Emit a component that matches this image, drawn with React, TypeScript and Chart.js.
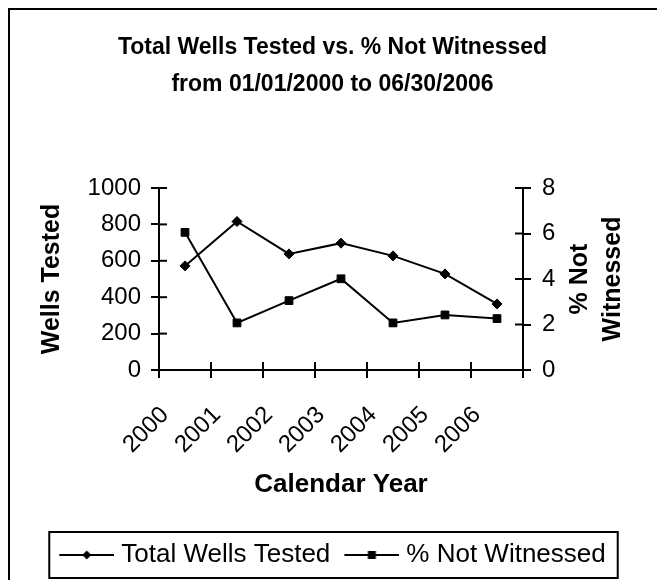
import React, { useEffect, useRef } from "react";
import { Chart, registerables } from "chart.js";

Chart.register(...registerables);

const categories = ["2000", "2001", "2002", "2003", "2004", "2005", "2006"];
const wellsTested = [572, 816, 638, 697, 627, 528, 363];
const pctNotWitnessed = [6.05, 2.07, 3.05, 4.01, 2.07, 2.42, 2.26];
const wellsTicks = [0, 200, 400, 600, 800, 1000];
const pctTicks = [0, 2, 4, 6, 8];
const seriesNames = ["Total Wells Tested", "% Not Witnessed"];
const titleLines = ["Total Wells Tested vs. % Not Witnessed", "from 01/01/2000 to 06/30/2006"];
const xTitle = "Calendar Year";
const yLeftTitle = "Wells Tested";
const yRightTitle = ["% Not", "Witnessed"];

const FAMILY = "'Liberation Sans', Arial, sans-serif";
const BLACK = "#000000";
const TICK_FONT = 24;
const AXIS_TITLE_FONT = 25;
const LEGEND_FONT = 26;

function legendSymbol(kind: "diamond" | "square"): HTMLCanvasElement {
  const c = document.createElement("canvas");
  c.width = 61;
  c.height = 14;
  const ctx = c.getContext("2d")!;
  ctx.strokeStyle = BLACK;
  ctx.fillStyle = BLACK;
  ctx.lineWidth = 2;
  ctx.beginPath();
  ctx.moveTo(6, 7);
  ctx.lineTo(61, 7);
  ctx.stroke();
  const cx = 6 + 55 / 2;
  if (kind === "diamond") {
    ctx.beginPath();
    ctx.moveTo(cx, 2.5);
    ctx.lineTo(cx + 4.5, 7);
    ctx.lineTo(cx, 11.5);
    ctx.lineTo(cx - 4.5, 7);
    ctx.closePath();
    ctx.fill();
  } else {
    ctx.fillRect(cx - 4, 3, 8, 8);
  }
  return c;
}

const framePlugin = {
  id: "frame",
  beforeDraw(chart: any) {
    const { ctx, width, height } = chart;
    ctx.save();
    ctx.fillStyle = "#ffffff";
    ctx.fillRect(0, 0, width, height);
    ctx.strokeStyle = BLACK;
    ctx.lineWidth = 2;
    ctx.beginPath();
    ctx.moveTo(1, height);
    ctx.lineTo(1, 1);
    ctx.lineTo(width, 1);
    ctx.stroke();
    ctx.restore();
  },
};

const innerTicksPlugin = {
  id: "innerTicks",
  afterDraw(chart: any) {
    const { ctx, chartArea, scales } = chart;
    ctx.save();
    ctx.strokeStyle = BLACK;
    ctx.lineWidth = 2;
    const seg = (x1: number, y1: number, x2: number, y2: number) => {
      ctx.beginPath();
      ctx.moveTo(x1, y1);
      ctx.lineTo(x2, y2);
      ctx.stroke();
    };
    scales.y.ticks.forEach((t: any) => {
      const p = scales.y.getPixelForValue(t.value);
      seg(chartArea.left, p, chartArea.left + 8, p);
    });
    scales.y1.ticks.forEach((t: any) => {
      const p = scales.y1.getPixelForValue(t.value);
      seg(chartArea.right - 8, p, chartArea.right, p);
    });
    for (let i = 0; i <= categories.length; i++) {
      const p = scales.x.getPixelForValue(i - 0.5);
      seg(p, chartArea.bottom, p, chartArea.bottom - 8);
    }
    // right axis title, reading bottom-to-top
    ctx.fillStyle = BLACK;
    ctx.font = `bold ${AXIS_TITLE_FONT}px ${FAMILY}`;
    ctx.textAlign = "center";
    ctx.textBaseline = "middle";
    const cy = (chartArea.top + chartArea.bottom) / 2;
    const firstX = scales.y1.right - 77;
    yRightTitle.forEach((line, i) => {
      ctx.save();
      ctx.translate(firstX + i * 33, cy);
      ctx.rotate(-Math.PI / 2);
      ctx.fillText(line, 0, 0);
      ctx.restore();
    });
    // legend border
    const lg = chart.legend;
    if (lg && lg.legendHitBoxes && lg.legendHitBoxes.length) {
      const hb = lg.legendHitBoxes;
      const left = hb[0].left - 10;
      const last = hb[hb.length - 1];
      const right = last.left + last.width + 12;
      const midY = hb[0].top + hb[0].height / 2;
      ctx.strokeRect(left, midY - 23, right - left, 46);
    }
    ctx.restore();
  },
};

export default function App() {
  const ref = useRef<HTMLCanvasElement | null>(null);

  useEffect(() => {
    if (!ref.current) return;
    const symbols = [legendSymbol("diamond"), legendSymbol("square")];
    const gridOpts = {
      drawOnChartArea: false,
      drawTicks: true,
      tickLength: 8,
      tickWidth: 2,
      tickColor: BLACK,
      lineWidth: 2,
      color: BLACK,
    };
    const chart = new Chart(ref.current, {
      type: "line",
      data: {
        labels: categories,
        datasets: [
          {
            label: seriesNames[0],
            data: wellsTested,
            yAxisID: "y",
            borderColor: BLACK,
            backgroundColor: BLACK,
            borderWidth: 2,
            pointStyle: "rectRot",
            pointRadius: 5,
            pointBorderWidth: 1,
            pointBackgroundColor: BLACK,
            pointBorderColor: BLACK,
            tension: 0,
          },
          {
            label: seriesNames[1],
            data: pctNotWitnessed,
            yAxisID: "y1",
            borderColor: BLACK,
            backgroundColor: BLACK,
            borderWidth: 2,
            pointStyle: "rect",
            pointRadius: 5.5,
            pointBorderWidth: 1,
            pointBackgroundColor: BLACK,
            pointBorderColor: BLACK,
            tension: 0,
          },
        ],
      },
      options: {
        animation: false,
        responsive: false,
        maintainAspectRatio: false,
        events: [],
        layout: { padding: { left: 0, right: 0, top: 0, bottom: 2 } },
        plugins: {
          title: {
            display: true,
            text: titleLines,
            color: BLACK,
            font: { family: FAMILY, size: 23, weight: "bold", lineHeight: 37 / 23 },
            padding: { top: 21, bottom: 85 },
          },
          legend: {
            display: true,
            position: "bottom",
            labels: {
              usePointStyle: true,
              pointStyleWidth: 49,
              color: BLACK,
              font: { family: FAMILY, size: LEGEND_FONT },
              padding: 14,
              generateLabels: () =>
                seriesNames.map((name, i) => ({
                  text: name,
                  fontColor: BLACK,
                  pointStyle: symbols[i] as any,
                  fillStyle: BLACK,
                  strokeStyle: BLACK,
                  lineWidth: 0,
                  hidden: false,
                  datasetIndex: i,
                })),
            },
          },
          tooltip: { enabled: false },
        },
        scales: {
          x: {
            type: "category",
            offset: true,
            grid: { ...gridOpts, offset: true },
            border: { display: true, color: BLACK, width: 2 },
            ticks: {
              autoSkip: false,
              minRotation: 45,
              maxRotation: 45,
              color: BLACK,
              font: { family: FAMILY, size: TICK_FONT },
              padding: 23,
              labelOffset: -20,
            },
            title: {
              display: true,
              text: xTitle,
              color: BLACK,
              font: { family: FAMILY, size: 26, weight: "bold" },
              padding: { top: 0, bottom: 28 },
            },
            afterFit: (s: any) => {
              s.height = 158;
            },
          },
          y: {
            type: "linear",
            position: "left",
            min: 0,
            max: 1000,
            grid: gridOpts,
            border: { display: true, color: BLACK, width: 2 },
            afterBuildTicks: (s: any) => {
              s.ticks = wellsTicks.map((v) => ({ value: v }));
            },
            ticks: {
              color: BLACK,
              font: { family: FAMILY, size: TICK_FONT },
              padding: 10,
              callback: (v: any) => String(v),
            },
            title: {
              display: true,
              text: yLeftTitle,
              color: BLACK,
              font: { family: FAMILY, size: AXIS_TITLE_FONT, weight: "bold" },
              padding: { top: 29, bottom: 0 },
            },
            afterFit: (s: any) => {
              s.width = 151;
            },
          },
          y1: {
            type: "linear",
            position: "right",
            min: 0,
            max: 8,
            grid: gridOpts,
            border: { display: true, color: BLACK, width: 2 },
            afterBuildTicks: (s: any) => {
              s.ticks = pctTicks.map((v) => ({ value: v }));
            },
            ticks: {
              color: BLACK,
              font: { family: FAMILY, size: TICK_FONT },
              padding: 11,
              callback: (v: any) => String(v),
            },
            title: { display: false },
            afterFit: (s: any) => {
              s.width = 134;
            },
          },
        },
      } as any,
      plugins: [framePlugin, innerTicksPlugin],
    });
    return () => chart.destroy();
  }, []);

  return (
    <div style={{ position: "fixed", left: 8, top: 8, width: 649, height: 572 }}>
      <canvas ref={ref} width={649} height={572} style={{ display: "block" }} />
    </div>
  );
}
